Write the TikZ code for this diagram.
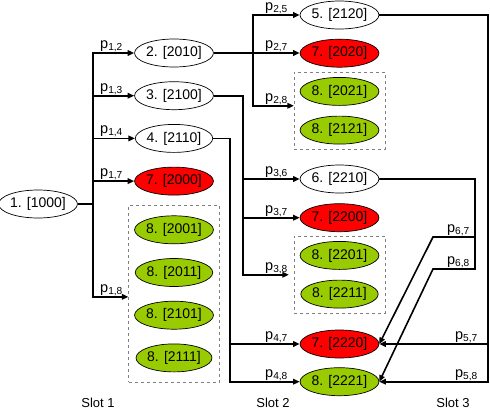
\documentclass[tikz,border=0pt]{standalone}
\usepackage{fontspec}
\setmainfont{Liberation Sans}
\usepackage{xcolor}
\usetikzlibrary{shapes.geometric, arrows.meta, positioning, fit, calc}
\definecolor{failred}{RGB}{255,0,0}
\definecolor{goalgreen}{RGB}{153,204,0}
\tikzset{
  state/.style={ellipse, draw, line width=0.7pt, fill=white,
                minimum width=75pt, minimum height=28pt, inner sep=0pt,
                font=\fontsize{14}{16}\selectfont},
  fail/.style={state, fill=failred},
  goal/.style={state, fill=goalgreen},
  arrow/.style={-{Triangle[length=6.5pt,width=5.5pt]}, line width=1.6pt},
  group/.style={draw=gray, dashed, line width=0.6pt,
                inner xsep=5.5pt, inner ysep=5pt},
  prob/.style={anchor=south west, inner sep=1pt,
               font=\fontsize{14.5}{16}\selectfont},
  slot/.style={font=\fontsize{13}{15}\selectfont}
}

\begin{document}
\begin{tikzpicture}[x=1pt, y=-1pt, node distance=14pt]
  \useasboundingbox (0,0) rectangle (490,410);

  % start state
  \node[state, minimum width=74pt] (n1) at (38,204) {1. [1000]};

  % Slot 1
  \node[state] (n2) at (174,53) {2. [2010]};
  \node[state, below=of n2] (n3) {3. [2100]};
  \node[state, below=of n3] (n4) {4. [2110]};
  \node[fail, below=of n4] (f1) {7. [2000]};
  \node[goal, below=20pt of f1] (g1a) {8. [2001]};
  \node[goal, below=of g1a] (g1b) {8. [2011]};
  \node[goal, below=of g1b] (g1c) {8. [2101]};
  \node[goal, below=of g1c] (g1d) {8. [2111]};
  \node[group, inner ysep=10pt, fit=(g1a) (g1d)] (box1) {};

  % Slot 2
  \node[state] (n5) at (339.5,15) {5. [2120]};
  \node[fail, below=9.5pt of n5] (f2) {7. [2020]};
  \node[goal, below=9.5pt of f2] (g2a) {8. [2021]};
  \node[goal, below=10pt of g2a] (g2b) {8. [2121]};
  \node[group, fit=(g2a) (g2b)] (box2) {};
  \node[state] (n6) at (339.5,179) {6. [2210]};
  \node[fail, below=10pt of n6] (f3) {7. [2200]};
  \node[goal, below=9pt of f3] (g3a) {8. [2201]};
  \node[goal, below=10pt of g3a] (g3b) {8. [2211]};
  \node[group, fit=(g3a) (g3b)] (box3) {};
  \node[fail] (f4) at (339.5,344) {7. [2220]};
  \node[goal, below=9pt of f4] (g4) {8. [2221]};

  % trunks and bends
  \coordinate (t1) at (93,0);
  \coordinate (t2) at (253,0);
  \coordinate (t3) at (243,0);
  \coordinate (t4) at (230,0);
  \coordinate (t5) at (488,0);
  \coordinate (t6) at (475,0);
  \coordinate (k67) at (433,237);
  \coordinate (k68) at (433,269);
  \coordinate (a18) at ([yshift=-3pt]box1.west);
  \coordinate (a28) at ([yshift=5pt]box2.west);
  \coordinate (l1) at (99,0);
  \coordinate (l2) at (264,0);

  % Arrows from 1
  \draw[arrow] (n1.east) -| (t1 |- n2) -- (n2.west);
  \draw[arrow] (n1.east) -| (t1 |- n3) -- (n3.west);
  \draw[arrow] (n1.east) -| (t1 |- n4) -- (n4.west);
  \draw[arrow] (n1.east) -| (t1 |- f1) -- (f1.west);
  \draw[arrow] (n1.east) -| (t1 |- a18) -- (a18);

  % Arrows from 2
  \draw[arrow] (n2.east) -- (n2.east -| f2.west);
  \draw[arrow] (n2.east) -| (t2 |- n5) -- (n5.west);
  \draw[arrow] (n2.east) -| (t2 |- a28) -- (a28);

  % Arrows from 3
  \draw[arrow] (n3.east) -| (t3 |- n6) -- (n6.west);
  \draw[arrow] (n3.east) -| (t3 |- f3) -- (f3.west);
  \draw[arrow, shorten >=5pt] (n3.east) -| (t3 |- box3.west) -- (box3.west);

  % Arrows from 4
  \draw[arrow] (n4.east) -| (t4 |- f4) -- (f4.west);
  \draw[arrow] (n4.east) -| (t4 |- g4) -- (g4.west);

  % Arrows from 5 and 6
  \draw[arrow] (n5.east) -| (t5 |- f4) -- (f4.east);
  \draw[arrow] (n5.east) -| (t5 |- g4) -- (g4.east);
  \draw[arrow] (n6.east) -| (t6 |- k67) -- (k67) -- (f4.east);
  \draw[arrow] (n6.east) -| (t6 |- k68) -- (k68) -- (g4.east);

  % transition probabilities
  \node[prob] (p12) at (l1 |- n2) {p\textsubscript{1,2}};
  \node[prob] (p13) at (l1 |- n3) {p\textsubscript{1,3}};
  \node[prob] (p14) at (l1 |- n4) {p\textsubscript{1,4}};
  \node[prob] (p17) at (l1 |- f1) {p\textsubscript{1,7}};
  \node[prob] (p18) at (l1 |- a18) {p\textsubscript{1,8}};
  \node[prob] (p25) at (l2 |- n5) {p\textsubscript{2,5}};
  \node[prob] (p27) at (l2 |- f2) {p\textsubscript{2,7}};
  \node[prob] (p28) at (l2 |- a28) {p\textsubscript{2,8}};
  \node[prob] (p36) at (l2 |- n6) {p\textsubscript{3,6}};
  \node[prob] (p37) at (l2 |- f3) {p\textsubscript{3,7}};
  \node[prob] (p38) at (l2 |- box3.west) {p\textsubscript{3,8}};
  \node[prob] (p47) at (l2 |- f4) {p\textsubscript{4,7}};
  \node[prob] (p48) at (l2 |- g4) {p\textsubscript{4,8}};
  \node[prob, anchor=south east, xshift=-4pt] (p67) at (t6 |- k67) {p\textsubscript{6,7}};
  \node[prob, anchor=south east, xshift=-4pt] (p68) at (t6 |- k68) {p\textsubscript{6,8}};
  \node[prob, anchor=south east, xshift=-9pt] (p57) at (t5 |- f4) {p\textsubscript{5,7}};
  \node[prob, anchor=south east, xshift=-9pt] (p58) at (t5 |- g4) {p\textsubscript{5,8}};

  % slots
  \node[slot] (s1) at (98,403) {Slot 1};
  \node[slot] (s2) at (273,403) {Slot 2};
  \node[slot] (s3) at (453,403) {Slot 3};
\end{tikzpicture}
\end{document}
